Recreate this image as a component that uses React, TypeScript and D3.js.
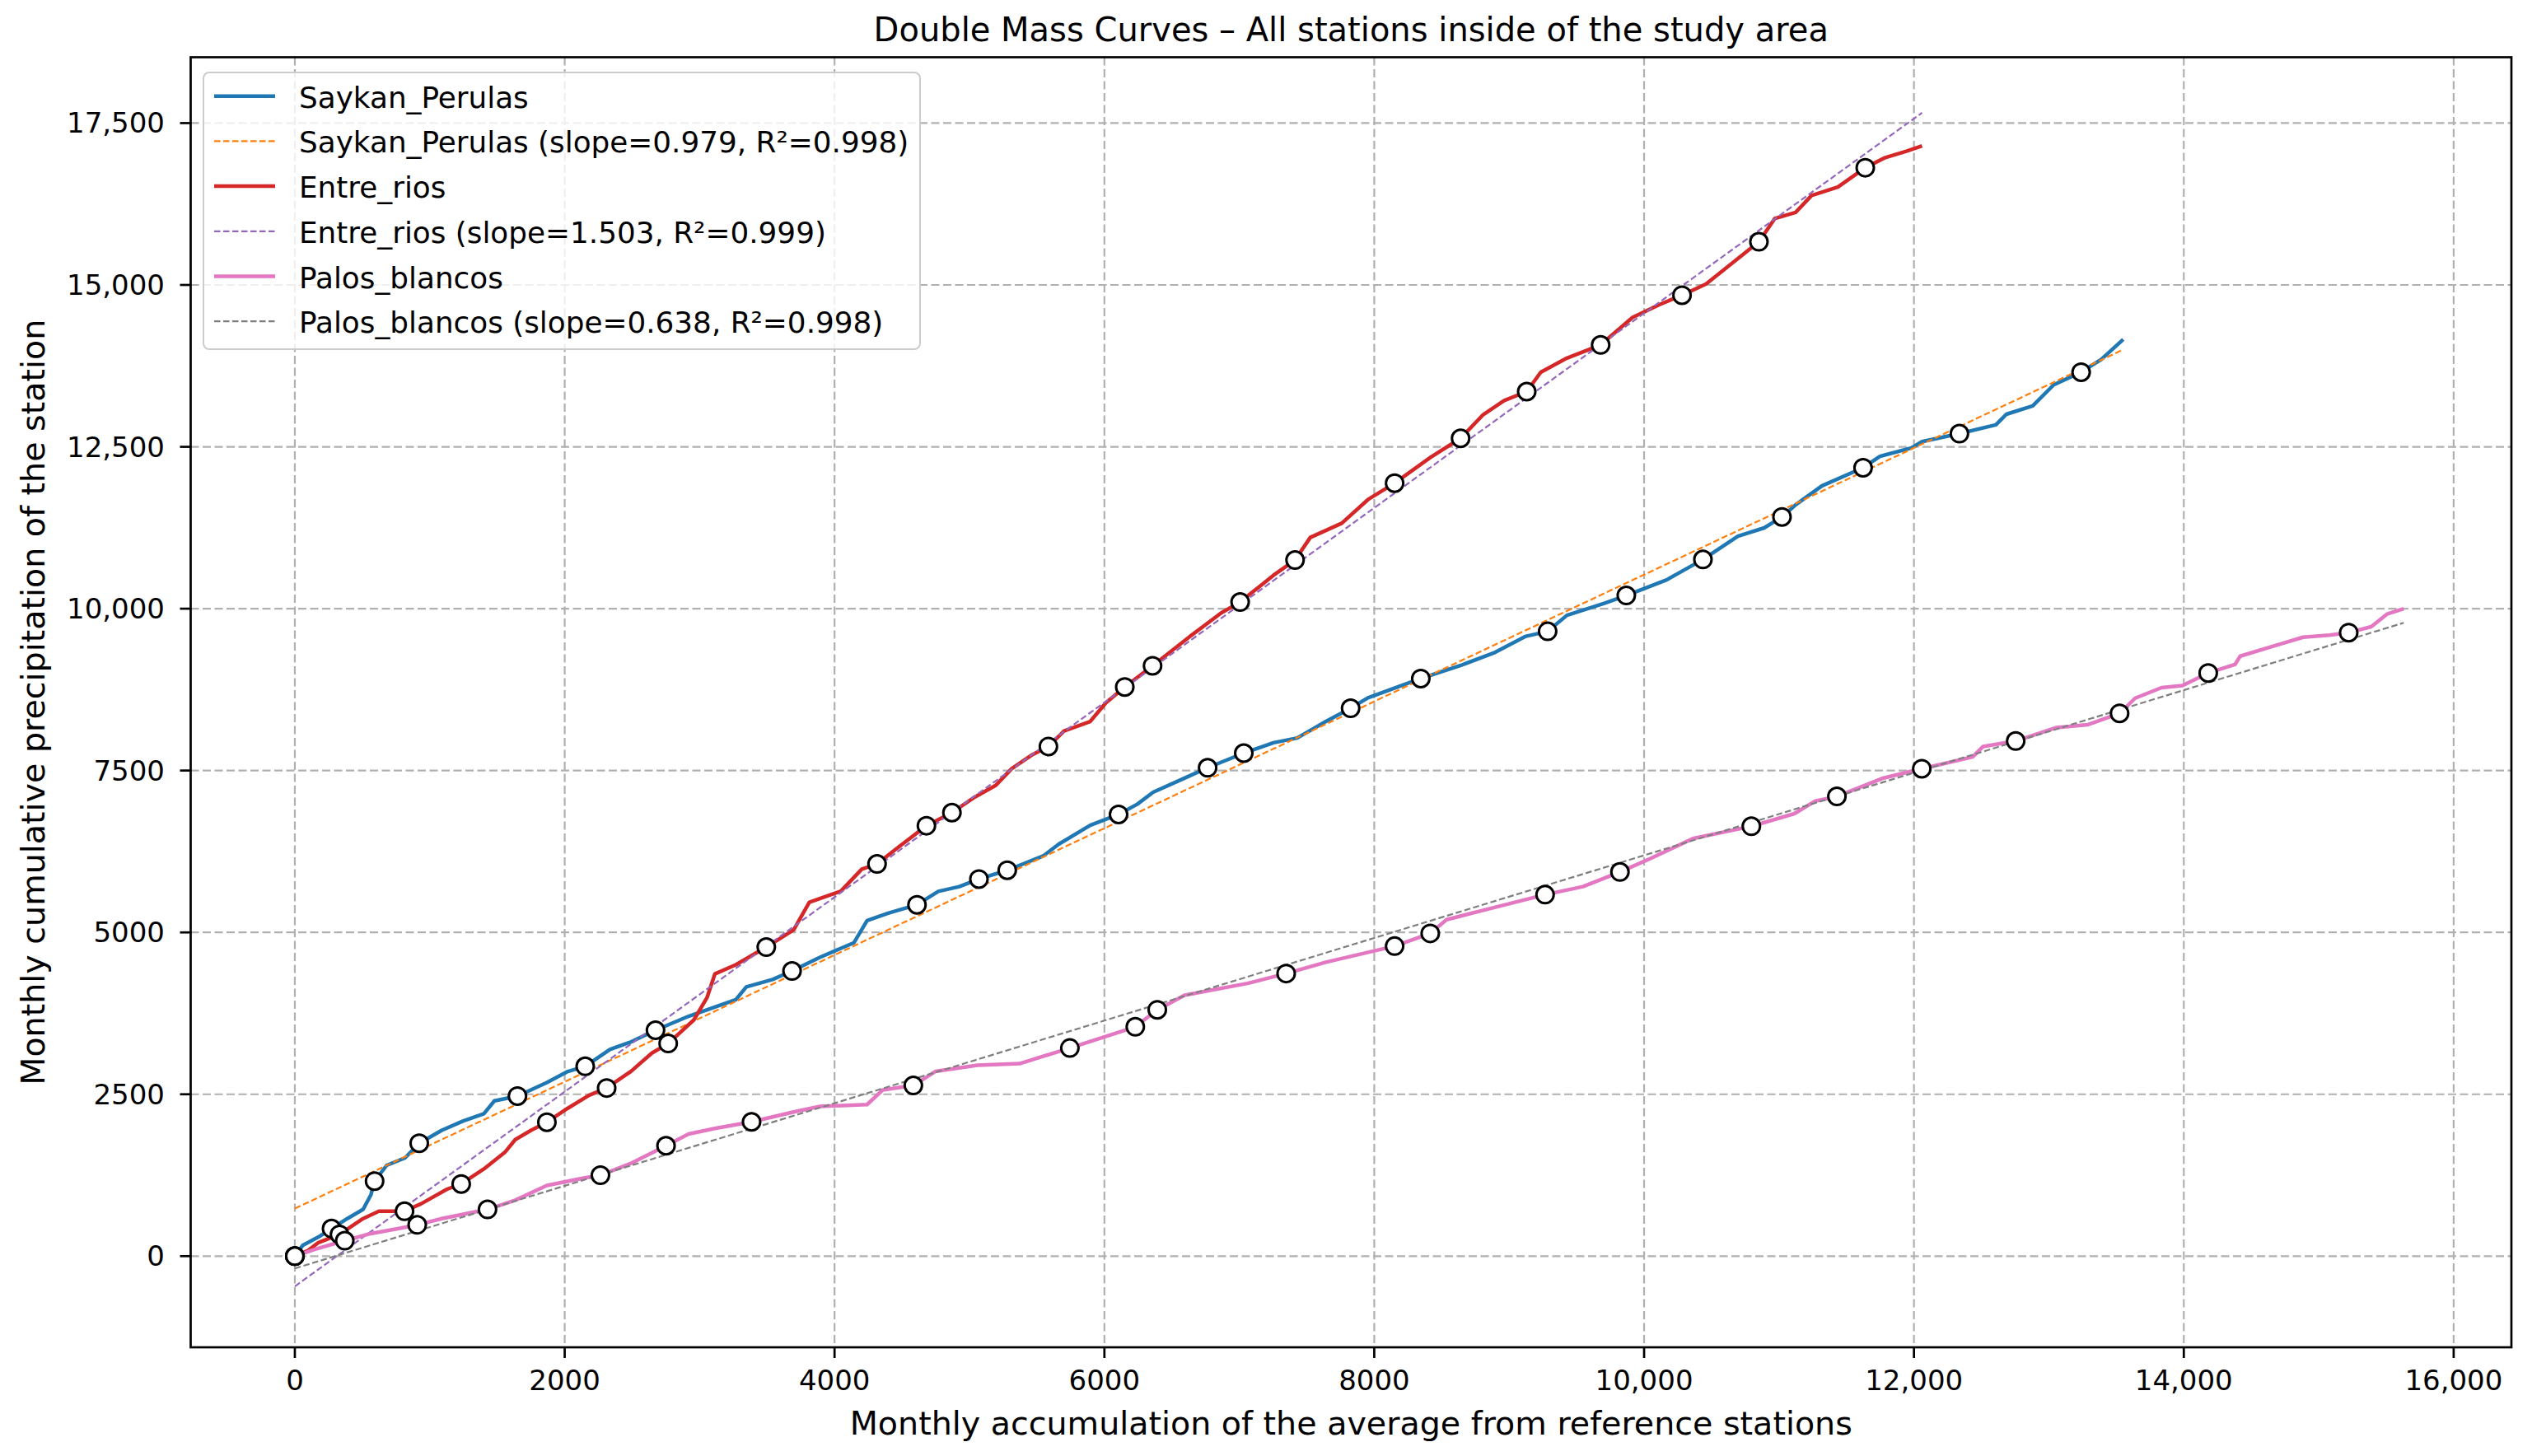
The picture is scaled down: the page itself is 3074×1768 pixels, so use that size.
import * as d3 from 'd3';

// values
const stationNames = ['Saykan_Perulas', 'Entre_rios', 'Palos_blancos'];
const fitSlopes = [0.979, 1.503, 0.638];
const fitIntercepts = [735, -467, -190];
const fitR2 = [0.998, 0.999, 0.998];

const saykanCurve: [number, number][] = [
  [0, 0], [58, 165], [175, 295], [272, 426], [389, 580], [506, 722], [564, 949], [591, 1159],
  [681, 1403], [817, 1517], [922, 1744], [1089, 1943], [1245, 2085], [1401, 2199], [1479, 2398],
  [1650, 2472], [1868, 2682], [2023, 2852], [2152, 2932], [2335, 3193], [2490, 3307], [2673, 3489],
  [2918, 3705], [3268, 3960], [3346, 4159], [3541, 4273], [3685, 4404], [3891, 4614], [4144, 4841],
  [4241, 5182], [4397, 5296], [4611, 5426], [4769, 5634], [4924, 5707], [5070, 5824], [5280, 5960],
  [5546, 6180], [5662, 6363], [5895, 6654], [6105, 6822], [6245, 6982], [6361, 7164], [6594, 7383],
  [6765, 7543], [7033, 7769], [7254, 7930], [7429, 8003], [7642, 8258], [7825, 8462], [7953, 8622],
  [8345, 8921], [8652, 9133], [8885, 9315], [9118, 9570], [9285, 9650], [9428, 9898], [9700, 10080],
  [9868, 10204], [10167, 10445], [10436, 10760], [10695, 11118], [10890, 11248], [11022, 11417],
  [11124, 11605], [11319, 11898], [11623, 12177], [11748, 12353], [11982, 12483], [12060, 12580],
  [12337, 12704], [12607, 12840], [12685, 13003], [12880, 13133], [13036, 13458], [13239, 13653],
  [13387, 13848], [13551, 14160],
];
const saykanMarks: [number, number][] = [
  [0, 0], [272, 426], [591, 1159], [922, 1744], [1650, 2472], [2152, 2932], [2673, 3489],
  [3685, 4404], [4611, 5426], [5070, 5824], [5280, 5960], [6105, 6822], [6765, 7543], [7033, 7769],
  [7825, 8462], [8345, 8921], [9285, 9650], [9868, 10204], [10436, 10760], [11022, 11417],
  [11623, 12177], [12337, 12704], [13239, 13653],
];

const entreCurve: [number, number][] = [
  [0, 0], [97, 85], [175, 210], [331, 335], [506, 580], [623, 693], [813, 693], [934, 807],
  [1128, 1034], [1233, 1114], [1401, 1347], [1556, 1602], [1634, 1801], [1751, 1943], [1868, 2068],
  [2023, 2284], [2179, 2483], [2311, 2597], [2490, 2852], [2646, 3136], [2767, 3284], [2957, 3648],
  [3054, 3989], [3113, 4358], [3268, 4500], [3494, 4773], [3697, 5040], [3813, 5466], [4047, 5637],
  [4202, 5977], [4315, 6057], [4475, 6318], [4681, 6648], [4870, 6850], [5041, 7092], [5196, 7274],
  [5313, 7529], [5468, 7748], [5585, 7871], [5701, 8112], [5895, 8258], [6012, 8549], [6151, 8790],
  [6357, 9118], [6633, 9570], [6866, 9934], [7006, 10102], [7254, 10517], [7413, 10751],
  [7526, 11100], [7759, 11319], [7953, 11684], [8151, 11939], [8419, 12340], [8640, 12631],
  [8807, 12996], [8963, 13214], [9130, 13353], [9234, 13652], [9428, 13870], [9678, 14074],
  [9914, 14497], [10109, 14692], [10281, 14842], [10460, 15017], [10695, 15407], [10851, 15667],
  [10968, 16025], [11124, 16122], [11241, 16382], [11436, 16512], [11639, 16811], [11788, 16967],
  [11944, 17065], [12060, 17149],
];
const entreMarks: [number, number][] = [
  [0, 0], [331, 335], [813, 693], [1233, 1114], [1868, 2068], [2311, 2597], [2767, 3284],
  [3494, 4773], [4315, 6057], [4681, 6648], [4870, 6850], [5585, 7871], [6151, 8790], [6357, 9118],
  [7006, 10102], [7413, 10751], [8151, 11939], [8640, 12631], [9130, 13353], [9678, 14074],
  [10281, 14842], [10851, 15667], [11639, 16811],
];

const palosCurve: [number, number][] = [
  [0, 0], [156, 110], [370, 239], [545, 340], [778, 430], [907, 483], [1089, 580], [1428, 722],
  [1634, 864], [1868, 1091], [2140, 1205], [2265, 1250], [2490, 1432], [2751, 1705], [2918, 1886],
  [3113, 1972], [3385, 2074], [3697, 2227], [3891, 2313], [4241, 2341], [4358, 2568], [4584, 2636],
  [4747, 2852], [5058, 2949], [5371, 2973], [5744, 3214], [6089, 3447], [6229, 3542], [6392, 3804],
  [6594, 4030], [7060, 4212], [7347, 4365], [7642, 4540], [8151, 4788], [8415, 4985], [8536, 5196],
  [8807, 5342], [9266, 5583], [9546, 5707], [9821, 5933], [10050, 6144], [10361, 6450],
  [10795, 6639], [11114, 6834], [11269, 7029], [11429, 7100], [11775, 7385], [12058, 7528],
  [12435, 7710], [12513, 7872], [12754, 7956], [13057, 8164], [13290, 8209], [13524, 8384],
  [13640, 8618], [13835, 8780], [13990, 8813], [14181, 9007], [14379, 9137], [14418, 9267],
  [14729, 9462], [14884, 9559], [15078, 9591], [15222, 9630], [15389, 9721], [15506, 9916],
  [15630, 10000],
];
const palosMarks: [number, number][] = [
  [0, 0], [370, 239], [907, 483], [1428, 722], [2265, 1250], [2751, 1705], [3385, 2074],
  [4584, 2636], [5744, 3214], [6229, 3542], [6392, 3804], [7347, 4365], [8151, 4788], [8415, 4985],
  [9266, 5583], [9821, 5933], [10795, 6639], [11429, 7100], [12058, 7528], [12754, 7956],
  [13524, 8384], [14181, 9007], [15222, 9630],
];

const xTicks = [0, 2000, 4000, 6000, 8000, 10000, 12000, 14000, 16000];
const yTicks = [0, 2500, 5000, 7500, 10000, 12500, 15000, 17500];

const curves = [saykanCurve, entreCurve, palosCurve];
const marks = [saykanMarks, entreMarks, palosMarks];
const lineColors = ['#1f77b4', '#d62728', '#e377c2'];
const fitColors = ['#ff7f0e', '#9467bd', '#7f7f7f'];

const W = 3074;
const H = 1768;
const left = 231.5;
const right = 3049;
const top = 69.5;
const bottom = 1636;
const font = '"DejaVu Sans", sans-serif';

export default function App() {
  const x = d3.scaleLinear().domain([-772, 16428]).range([left, right]);
  const y = d3.scaleLinear().domain([-1408, 18517]).range([bottom, top]);
  const line = d3
    .line<[number, number]>()
    .x((d) => x(d[0]))
    .y((d) => y(d[1]));
  const fmt = (v: number) => (Math.abs(v) >= 10000 ? d3.format(',')(v) : String(v));

  const fits = curves.map((c, i) => {
    const x1 = d3.max(c, (d) => d[0]) ?? 0;
    return [
      [0, fitIntercepts[i]],
      [x1, fitIntercepts[i] + fitSlopes[i] * x1],
    ] as [number, number][];
  });

  const legendItems = stationNames.flatMap((name, i) => [
    { label: name, color: lineColors[i], dashed: false },
    {
      label: `${name} (slope=${fitSlopes[i].toFixed(3)}, R²=${fitR2[i].toFixed(3)})`,
      color: fitColors[i],
      dashed: true,
    },
  ]);

  return (
    <svg
      width={W}
      height={H}
      style={{ position: 'absolute', left: 0, top: 0, background: '#fff' }}
      fontFamily={font}
    >
      <rect width={W} height={H} fill="#fff" />
      <defs>
        <clipPath id="plot">
          <rect x={left} y={top} width={right - left} height={bottom - top} />
        </clipPath>
      </defs>

      {/* grid */}
      <g stroke="#b0b0b0" strokeWidth={2.2} strokeDasharray="10,4.5">
        {xTicks.map((t) => (
          <line key={'gx' + t} x1={x(t)} x2={x(t)} y1={top} y2={bottom} />
        ))}
        {yTicks.map((t) => (
          <line key={'gy' + t} x1={left} x2={right} y1={y(t)} y2={y(t)} />
        ))}
      </g>

      <g clipPath="url(#plot)">
        {curves.map((c, i) => (
          <g key={stationNames[i]}>
            <path d={line(c) ?? ''} fill="none" stroke={lineColors[i]} strokeWidth={4.5} strokeLinejoin="round" />
            <path
              d={line(fits[i]) ?? ''}
              fill="none"
              stroke={fitColors[i]}
              strokeWidth={2.2}
              strokeDasharray="7.5,3.5"
            />
          </g>
        ))}
        {marks.map((m, i) =>
          m.map((d, j) => (
            <circle
              key={i + '-' + j}
              cx={x(d[0])}
              cy={y(d[1])}
              r={10.5}
              fill="#fff"
              stroke="#000"
              strokeWidth={3}
            />
          ))
        )}
      </g>

      {/* spines */}
      <rect x={left} y={top} width={right - left} height={bottom - top} fill="none" stroke="#000" strokeWidth={2.7} />

      {/* x ticks */}
      <g>
        {xTicks.map((t) => (
          <g key={'tx' + t}>
            <line x1={x(t)} x2={x(t)} y1={bottom} y2={bottom + 13} stroke="#000" strokeWidth={2.7} />
            <text x={x(t)} y={1688} fontSize={34} textAnchor="middle" fill="#000">
              {fmt(t)}
            </text>
          </g>
        ))}
      </g>
      {/* y ticks */}
      <g>
        {yTicks.map((t) => (
          <g key={'ty' + t}>
            <line x1={left - 13} x2={left} y1={y(t)} y2={y(t)} stroke="#000" strokeWidth={2.7} />
            <text x={200} y={y(t) + 12} fontSize={34} textAnchor="end" fill="#000">
              {fmt(t)}
            </text>
          </g>
        ))}
      </g>

      <text x={(left + right) / 2} y={50} fontSize={40} textAnchor="middle" fill="#000">
        Double Mass Curves – All stations inside of the study area
      </text>
      <text x={(left + right) / 2} y={1742} fontSize={39.6} textAnchor="middle" fill="#000">
        Monthly accumulation of the average from reference stations
      </text>
      <text
        transform={`translate(54,${(top + bottom) / 2}) rotate(-90)`}
        fontSize={39.6}
        textAnchor="middle"
        fill="#000"
      >
        Monthly cumulative precipitation of the station
      </text>

      {/* legend */}
      <g>
        <rect
          x={247}
          y={88}
          width={870}
          height={336}
          rx={7}
          fill="#fff"
          fillOpacity={0.8}
          stroke="#cccccc"
          strokeWidth={2}
        />
        {legendItems.map((it, i) => {
          const ry = 116.7 + i * 54.7;
          return (
            <g key={it.label}>
              <line
                x1={260}
                x2={334}
                y1={ry}
                y2={ry}
                stroke={it.color}
                strokeWidth={it.dashed ? 2.2 : 4.5}
                strokeDasharray={it.dashed ? '7.5,3.5' : undefined}
              />
              <text x={363} y={ry + 14} fontSize={35.8} fill="#000">
                {it.label}
              </text>
            </g>
          );
        })}
      </g>
    </svg>
  );
}
